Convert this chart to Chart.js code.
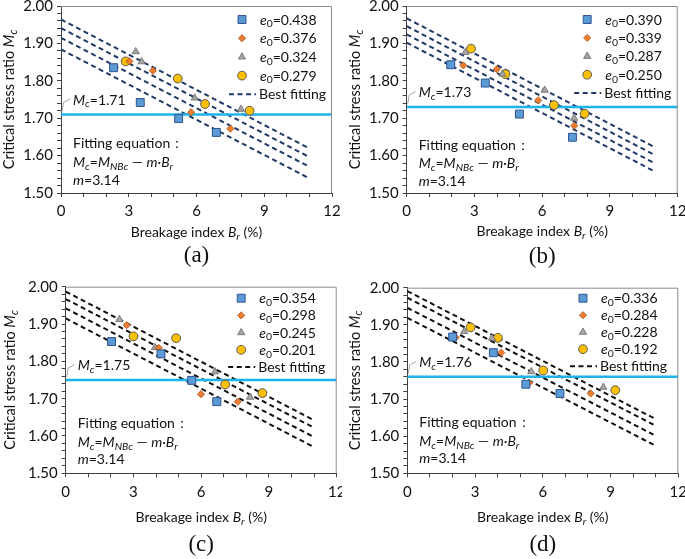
<!DOCTYPE html>
<html><head><meta charset="utf-8">
<script src="https://cdn.jsdelivr.net/npm/chart.js@4.4.1/dist/chart.umd.min.js"></script>
<style>
html,body{margin:0;padding:0;background:#fff;width:685px;height:559px;overflow:hidden}
.p{position:absolute}
canvas{display:block}
</style></head><body>
<div class="p" style="left:0;top:0;width:342px;height:278px"><canvas id="ca" width="342" height="278"></canvas></div>
<div class="p" style="left:342px;top:0;width:343px;height:278px"><canvas id="cb" width="343" height="278"></canvas></div>
<div class="p" style="left:0;top:278px;width:342px;height:281px"><canvas id="cc" width="342" height="281"></canvas></div>
<div class="p" style="left:342px;top:278px;width:343px;height:281px"><canvas id="cd" width="343" height="281"></canvas></div>
<script>
// ---------- data ----------
const xMajor = [0, 3, 6, 9, 12];
const yMajor = ['1.50', '1.60', '1.70', '1.80', '1.90', '2.00'];
const fitX = [0, 11];

// panel (a)
const aSq  = [[2.33,1.835],[3.51,1.742],[5.21,1.699],[6.88,1.662]];
const aDia = [[3.03,1.852],[4.07,1.827],[5.76,1.716],[7.50,1.672]];
const aTri = [[3.31,1.878],[3.57,1.851],[5.92,1.754],[7.97,1.724]];
const aCir = [[2.86,1.852],[5.17,1.806],[6.38,1.738],[8.35,1.720]];
const aE0  = ['0.438','0.376','0.324','0.279'];
const aFitStart = [1.964,1.941,1.915,1.884];
const aFitEnd   = [1.619,1.596,1.570,1.539];
const aMc = 1.71;

// panel (b)
const bSq  = [[1.95,1.843],[3.48,1.794],[4.99,1.711],[7.34,1.649]];
const bDia = [[2.51,1.841],[3.99,1.831],[5.82,1.748],[7.42,1.680]];
const bTri = [[2.60,1.876],[4.24,1.818],[6.11,1.775],[7.41,1.700]];
const bCir = [[2.85,1.886],[4.37,1.818],[6.52,1.735],[7.88,1.712]];
const bE0  = ['0.390','0.339','0.287','0.250'];
const bFitStart = [1.967,1.946,1.924,1.902];
const bFitEnd   = [1.622,1.601,1.579,1.557];
const bMc = 1.73;

// panel (c)
const cSq  = [[2.03,1.853],[4.22,1.820],[5.58,1.749],[6.69,1.692]];
const cDia = [[2.70,1.897],[4.12,1.836],[5.99,1.712],[7.62,1.692]];
const cTri = [[2.38,1.912],[3.95,1.837],[6.61,1.772],[8.16,1.704]];
const cCir = [[3.00,1.867],[4.89,1.862],[7.06,1.738],[8.71,1.715]];
const cE0  = ['0.354','0.298','0.245','0.201'];
const cFitStart = [1.987,1.967,1.942,1.915];
const cFitEnd   = [1.642,1.622,1.597,1.570];
const cMc = 1.75;

// panel (d)
const dSq  = [[2.01,1.867],[3.81,1.825],[5.25,1.740],[6.76,1.715]];
const dDia = [[2.14,1.866],[4.16,1.825],[5.40,1.744],[8.12,1.715]];
const dTri = [[2.52,1.882],[3.75,1.864],[5.49,1.774],[8.68,1.732]];
const dCir = [[2.80,1.893],[4.01,1.865],[6.02,1.777],[9.21,1.724]];
const dE0  = ['0.336','0.284','0.228','0.192'];
const dFitStart = [1.991,1.973,1.946,1.919];
const dFitEnd   = [1.646,1.628,1.601,1.574];
const dMc = 1.76;

// ---------- styles ----------
const FAM = 'Lato, "Open Sans", sans-serif';
const TXT = '#111111';
const ST = [
  {ps:'rect',     r:5.6, bg:'#5B9BD5', bd:'#2F528F', bw:1},
  {ps:'rectRot',  r:3.6, bg:'#ED7D31', bd:'#A9541B', bw:0.8},
  {ps:'triangle', r:4.2, bg:'#A5A5A5', bd:'#6A6A6A', bw:0.8},
  {ps:'circle',   r:4.4, bg:'#FFC000', bd:'#5A5A5A', bw:1}
];

function drawRich(ctx, runs, x, yMid, size, align) {
  const parts = runs.map(r => {
    const t = r[0], st = r[1] || '';
    const it = st.indexOf('i') >= 0, sub = st.indexOf('s') >= 0;
    const fs = sub ? size * 0.74 : size;
    const font = (it ? 'italic ' : '') + fs + 'px ' + FAM;
    ctx.font = font;
    return {t, font, w: ctx.measureText(t).width, dy: sub ? size * 0.2 : 0};
  });
  const total = parts.reduce((s, p) => s + p.w, 0);
  let cx = align === 'center' ? x - total / 2 : (align === 'right' ? x - total : x);
  const base = yMid + size * 0.36;
  ctx.textAlign = 'left'; ctx.textBaseline = 'alphabetic';
  parts.forEach(p => { ctx.font = p.font; ctx.fillText(p.t, cx, base + p.dy); cx += p.w; });
}

const deco = {
  id: 'deco',
  afterDraw(chart, args, o) {
    const ctx = chart.ctx, ca = chart.chartArea, ys = chart.scales.y;
    ctx.save();
    ctx.strokeStyle = '#8C8C8C'; ctx.lineWidth = 1;
    ctx.beginPath();
    ctx.moveTo(ca.left, ca.top + 0.5); ctx.lineTo(ca.right - 0.5, ca.top + 0.5); ctx.lineTo(ca.right - 0.5, ca.bottom);
    ctx.stroke();
    ctx.fillStyle = TXT;
    // y title
    ctx.save();
    ctx.translate(ca.left + o.yTitleDx, (ca.top + ca.bottom) / 2);
    ctx.rotate(-Math.PI / 2);
    drawRich(ctx, [['Critical stress ratio '], ['M','i'], ['c','is']], 0, 0, o.fs + 0.5, 'center');
    ctx.restore();
    // x title
    drawRich(ctx, [['Breakage index '], ['B','i'], ['r','is'], [' (%)']], (ca.left + ca.right) / 2, ca.bottom + o.xTitleDy, o.fs, 'center');
    // panel label
    ctx.font = '23px "Liberation Serif", "Times New Roman", serif';
    ctx.textAlign = 'center'; ctx.textBaseline = 'middle';
    ctx.fillText(o.label, (ca.left + ca.right) / 2, ca.bottom + o.labelDy);
    // Mc label with leader
    const yl = ys.getPixelForValue(o.mc);
    ctx.strokeStyle = '#A6A6A6'; ctx.lineWidth = 1;
    ctx.beginPath();
    ctx.moveTo(ca.left + 1, yl - 3); ctx.lineTo(ca.left + 2.5, yl - 12); ctx.lineTo(ca.left + 9, yl - 15.5);
    ctx.stroke();
    drawRich(ctx, [['M','i'], ['c','is'], ['=' + o.mc.toFixed(2)]], ca.left + 12, yl - 15, o.fs, 'left');
    // fitting equation
    const ex = ca.left + 12;
    drawRich(ctx, [['Fitting equation：']], ex, ca.top + o.eqY[0], o.fs, 'left');
    drawRich(ctx, [['M','i'], ['c','is'], ['='], ['M','i'], ['NBc','is'], [' — '], ['m','i'], ['·'], ['B','i'], ['r','is']], ex, ca.top + o.eqY[1], o.fs, 'left');
    drawRich(ctx, [['m','i'], ['=3.14']], ex, ca.top + o.eqY[2], o.fs, 'left');
    // legend
    const mx = ca.right + o.legDx;
    o.e0.forEach((txt, i) => {
      const y = ca.top + o.legY0 + i * o.legStep;
      const s = ST[i];
      ctx.fillStyle = s.bg; ctx.strokeStyle = s.bd; ctx.lineWidth = s.bw;
      Chart.helpers.drawPoint(ctx, {pointStyle: s.ps, radius: s.r, rotation: 0, borderWidth: s.bw}, mx, y);
      ctx.fillStyle = TXT;
      drawRich(ctx, [['e','i'], ['0','s'], ['=' + txt]], mx + 18, y, o.fs, 'left');
    });
    const yb = ca.top + o.legY0 + 4 * o.legStep;
    ctx.strokeStyle = o.fitColor; ctx.lineWidth = 2; ctx.setLineDash([5, 3.5]);
    ctx.beginPath(); ctx.moveTo(mx - 13, yb); ctx.lineTo(mx + 14, yb); ctx.stroke();
    ctx.setLineDash([]);
    ctx.fillStyle = TXT;
    drawRich(ctx, [['Best fitting']], mx + 17, yb, o.fs, 'left');
    ctx.restore();
  }
};

function makePanel(id, geo, series, e0, fitS, fitE, mc, label) {
  const ds = [];
  series.forEach((pts, k) => ds.push({
    data: pts.map(p => ({x: p[0], y: p[1]})),
    pointStyle: ST[k].ps, pointRadius: ST[k].r,
    pointBackgroundColor: ST[k].bg, pointBorderColor: ST[k].bd, pointBorderWidth: ST[k].bw,
    backgroundColor: ST[k].bg, borderColor: ST[k].bd,
    showLine: false, order: 0
  }));
  fitS.forEach((s, k) => ds.push({
    data: [{x: fitX[0], y: s}, {x: fitX[1], y: fitE[k]}],
    showLine: true, pointRadius: 0, borderColor: geo.fitColor, borderWidth: 2,
    borderDash: [5, 3.5], fill: false, tension: 0, order: 2
  }));
  ds.push({
    data: [{x: xMajor[0], y: mc}, {x: xMajor[xMajor.length - 1], y: mc}],
    showLine: true, pointRadius: 0, borderColor: '#1DB4EE', borderWidth: 2.5, fill: false, order: 1
  });
  const tickFont = {family: FAM, size: 15};
  new Chart(document.getElementById(id), {
    type: 'scatter',
    data: {datasets: ds},
    options: {
      responsive: false, animation: false, events: [],
      layout: {padding: geo.pad, autoPadding: false},
      plugins: {
        legend: {display: false}, tooltip: {enabled: false},
        deco: {fs: 14, yTitleDx: geo.yTitleDx, xTitleDy: geo.xTitleDy, labelDy: geo.labelDy,
               label: label, mc: mc, eqY: geo.eqY, legDx: geo.legDx, legY0: geo.legY0,
               legStep: geo.legStep, fitColor: geo.fitColor, e0: e0}
      },
      scales: {
        x: {
          type: 'linear', min: 0, max: 12,
          afterBuildTicks: s => { const t = []; for (let v = 0; v <= 12; v += 1) t.push({value: v}); s.ticks = t; },
          ticks: {autoSkip: false, maxRotation: 0, minRotation: 0, padding: geo.xTickPad, font: tickFont, color: TXT,
                  callback: v => xMajor.includes(v) ? String(v) : ''},
          grid: {drawOnChartArea: false, drawTicks: true, tickLength: 4, color: '#404040'},
          border: {display: true, color: '#404040', width: 1},
          afterFit: s => { s.height = 30; s.paddingLeft = 0; s.paddingRight = 0; }
        },
        y: {
          type: 'linear', min: 1.5, max: 2.0,
          afterBuildTicks: s => { const t = []; for (let i = 0; i <= 25; i++) t.push({value: Math.round((1.5 + i * 0.02) * 100) / 100}); s.ticks = t; },
          ticks: {autoSkip: false, padding: 4, font: tickFont, color: TXT,
                  callback: v => { const t = Number(v).toFixed(2); return yMajor.includes(t) ? t : ''; }},
          grid: {drawOnChartArea: false, drawTicks: true, tickLength: 4, color: '#404040'},
          border: {display: true, color: '#404040', width: 1},
          afterFit: s => { s.width = 50; s.paddingTop = 0; s.paddingBottom = 0; }
        }
      }
    },
    plugins: [deco]
  });
}

const NAVY = '#1F3864', BLACK = '#111111';
const geoA = {pad: {left: 11, right: 10, top: 6, bottom: 55}, yTitleDx: -52, xTitleDy: 39, labelDy: 63, xTickPad: 5,
              eqY: [137, 156, 174], legDx: -90, legY0: 13.5, legStep: 18.7, fitColor: NAVY};
const geoB = {pad: {left: 14.7, right: 7.3, top: 6, bottom: 55}, yTitleDx: -52, xTitleDy: 38, labelDy: 64, xTickPad: 5,
              eqY: [139, 157, 175], legDx: -90.5, legY0: 13.5, legStep: 18.4, fitColor: NAVY};
const geoC = {pad: {left: 15.7, right: 5.3, top: 8.7, bottom: 55.7}, yTitleDx: -56, xTitleDy: 44, labelDy: 72, xTickPad: 6,
              eqY: [136, 155, 172], legDx: -95.5, legY0: 11.5, legStep: 17.2, fitColor: BLACK};
const geoD = {pad: {left: 15.3, right: 6.7, top: 9.7, bottom: 55.7}, yTitleDx: -53, xTitleDy: 44, labelDy: 72, xTickPad: 6,
              eqY: [134, 153, 170], legDx: -95.3, legY0: 10.5, legStep: 17, fitColor: BLACK};

makePanel('ca', geoA, [aSq, aDia, aTri, aCir], aE0, aFitStart, aFitEnd, aMc, '(a)');
makePanel('cb', geoB, [bSq, bDia, bTri, bCir], bE0, bFitStart, bFitEnd, bMc, '(b)');
makePanel('cc', geoC, [cSq, cDia, cTri, cCir], cE0, cFitStart, cFitEnd, cMc, '(c)');
makePanel('cd', geoD, [dSq, dDia, dTri, dCir], dE0, dFitStart, dFitEnd, dMc, '(d)');
</script>
</body></html>
